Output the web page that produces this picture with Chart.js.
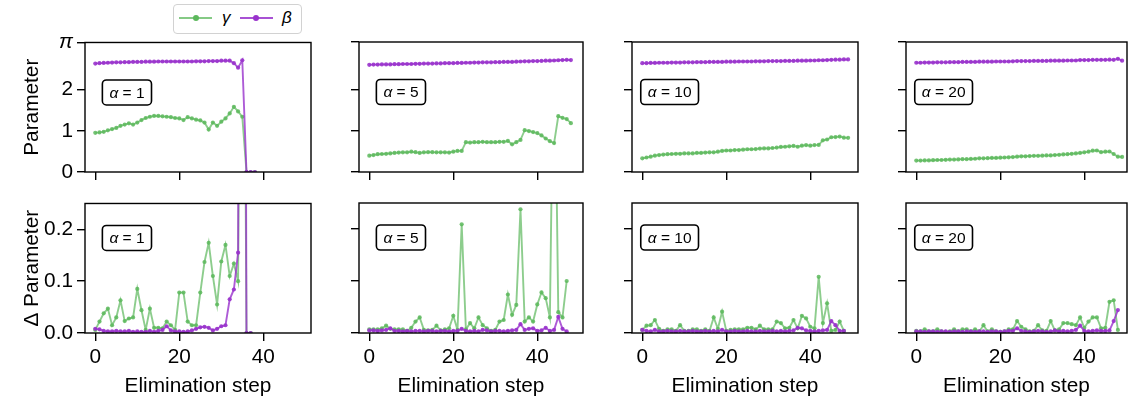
<!DOCTYPE html>
<html>
<head>
<meta charset="utf-8">
<script src="https://cdn.jsdelivr.net/npm/chart.js@4.4.1/dist/chart.umd.min.js"></script>
<style>
html, body { margin: 0; padding: 0; overflow: hidden; background: #fff; }
body { width: 1128px; height: 402px; position: relative; font-family: "Liberation Sans", Arial, sans-serif; }
canvas { position: absolute; }
#legend { position: absolute; z-index: 5; left: 173px; top: 4px; width: 127px; height: 28px;
          border: 1px solid #d2d2d2; border-radius: 4px; background: #fff; }
.lg-line { position: absolute; top: 12px; width: 33px; height: 2px; }
.lg-dot { position: absolute; top: 10px; width: 6px; height: 6px; border-radius: 50%; }
.lg-txt { position: absolute; top: 3px; font-style: italic; font-size: 17px; color: #000; }
</style>
</head>
<body>
<div id="legend">
  <div class="lg-line" style="left:5px;background:rgba(92,184,92,0.75)"></div>
  <div class="lg-dot" style="left:19px;background:rgb(92,184,92)"></div>
  <div class="lg-txt" style="left:48px">γ</div>
  <div class="lg-line" style="left:66px;background:rgba(153,50,204,0.85)"></div>
  <div class="lg-dot" style="left:79px;background:rgb(153,50,204)"></div>
  <div class="lg-txt" style="left:108px">β</div>
</div>
<script>
// ---- data ----
const alphas = [1, 5, 10, 20];

// alpha = 1
const gamma1 = [0.95,0.96,0.975,1.01,1.04,1.07,1.12,1.15,1.18,1.15,1.20,1.26,1.31,1.34,1.36,1.36,1.35,1.34,1.33,1.31,1.30,1.26,1.33,1.30,1.27,1.25,1.20,1.03,1.20,1.12,1.22,1.30,1.42,1.58,1.47,1.34,0,0,0];
const beta1 = [2.63,2.64,2.645,2.65,2.655,2.66,2.66,2.665,2.665,2.67,2.67,2.67,2.675,2.675,2.675,2.68,2.68,2.68,2.68,2.68,2.68,2.68,2.68,2.68,2.685,2.685,2.685,2.69,2.69,2.69,2.70,2.70,2.70,2.64,2.53,2.71,0,0,0];
const dGamma1 = [0.006,0.022,0.038,0.047,0.015,0.030,0.063,0.023,0.028,0.030,0.085,0.044,0.006,0.047,0.010,0.010,0.009,0.022,0.015,0.006,0.078,0.078,0.022,0.015,0.015,0.078,0.137,0.174,0.110,0.055,0.138,0.170,0.110,0.134,0.100,1.34,0,0];
const dBeta1 = [0.008,0.007,0.004,0.003,0.003,0.004,0.003,0.003,0.004,0.002,0.003,0.002,0.002,0.004,0.002,0.004,0.006,0.013,0.005,0.003,0.003,0.002,0.003,0.005,0.008,0.011,0.012,0.010,0.005,0.008,0.013,0.015,0.065,0.084,0.155,2.71,0,0];

// alpha = 5
const gamma5 = [0.395,0.41,0.43,0.435,0.44,0.45,0.46,0.47,0.475,0.475,0.49,0.48,0.46,0.475,0.48,0.48,0.475,0.475,0.475,0.47,0.49,0.51,0.51,0.72,0.71,0.72,0.72,0.73,0.72,0.72,0.72,0.73,0.73,0.75,0.67,0.72,0.775,1.01,0.99,0.965,0.94,0.885,0.81,0.745,0.70,1.35,1.31,1.28,1.18];
const beta5 = [2.59,2.595,2.595,2.60,2.60,2.60,2.605,2.605,2.61,2.61,2.61,2.615,2.615,2.62,2.62,2.62,2.625,2.625,2.63,2.63,2.63,2.635,2.635,2.64,2.64,2.645,2.645,2.65,2.65,2.65,2.655,2.655,2.66,2.66,2.66,2.665,2.67,2.675,2.675,2.68,2.68,2.685,2.69,2.69,2.695,2.70,2.705,2.71,2.705];
const dGamma5 = [0.007,0.007,0.007,0.009,0.014,0.008,0.007,0.007,0.007,0.004,0.010,0.022,0.030,0.006,0.005,0.006,0.014,0.005,0.007,0.009,0.033,0.006,0.209,0.007,0.019,0.009,0.030,0.015,0.009,0.004,0.006,0.022,0.025,0.074,0.035,0.054,0.238,0.022,0.030,0.022,0.055,0.078,0.067,0.030,0.650,0.040,0.030,0.100];
const dBeta5 = [0.005,0.005,0.004,0.005,0.006,0.009,0.004,0.004,0.003,0.004,0.003,0.004,0.004,0.003,0.004,0.004,0.003,0.004,0.004,0.003,0.004,0.004,0.008,0.004,0.003,0.004,0.003,0.006,0.005,0.003,0.004,0.004,0.003,0.004,0.005,0.006,0.017,0.006,0.008,0.009,0.004,0.005,0.010,0.004,0.006,0.031,0.008,0.003];

// alpha = 10
const gamma10 = [0.33,0.35,0.37,0.395,0.41,0.42,0.43,0.435,0.44,0.44,0.45,0.45,0.45,0.46,0.46,0.47,0.475,0.475,0.49,0.51,0.52,0.52,0.53,0.53,0.54,0.55,0.55,0.555,0.565,0.57,0.57,0.58,0.59,0.605,0.61,0.62,0.63,0.61,0.635,0.65,0.635,0.65,0.655,0.765,0.785,0.84,0.845,0.855,0.83,0.825];
const beta10 = [2.63,2.63,2.635,2.635,2.64,2.64,2.64,2.645,2.645,2.645,2.65,2.65,2.65,2.655,2.655,2.655,2.66,2.66,2.66,2.66,2.665,2.665,2.665,2.67,2.67,2.67,2.67,2.675,2.675,2.675,2.68,2.68,2.68,2.68,2.685,2.685,2.685,2.69,2.69,2.69,2.695,2.695,2.70,2.70,2.705,2.71,2.715,2.715,2.72,2.72];
const dGamma10 = [0.006,0.014,0.015,0.025,0.008,0.004,0.007,0.007,0.004,0.015,0.004,0.004,0.007,0.007,0.004,0.007,0.004,0.030,0.008,0.041,0.004,0.006,0.007,0.007,0.007,0.010,0.010,0.007,0.014,0.007,0.007,0.007,0.022,0.019,0.009,0.010,0.025,0.009,0.033,0.028,0.012,0.009,0.108,0.019,0.057,0.004,0.006,0.022,0.004];
const dBeta10 = [0.006,0.004,0.003,0.006,0.003,0.003,0.004,0.003,0.003,0.004,0.003,0.003,0.004,0.003,0.003,0.004,0.003,0.004,0.003,0.006,0.003,0.003,0.004,0.003,0.003,0.004,0.003,0.003,0.004,0.003,0.003,0.004,0.003,0.004,0.003,0.004,0.005,0.010,0.009,0.005,0.004,0.003,0.004,0.005,0.006,0.023,0.015,0.004,0.004];

// alpha = 20
const gamma20 = [0.275,0.275,0.28,0.28,0.285,0.29,0.29,0.295,0.30,0.30,0.305,0.31,0.31,0.315,0.32,0.33,0.33,0.335,0.34,0.34,0.345,0.35,0.355,0.36,0.37,0.38,0.38,0.385,0.39,0.39,0.395,0.40,0.40,0.41,0.415,0.425,0.43,0.44,0.45,0.46,0.475,0.49,0.515,0.52,0.48,0.49,0.495,0.435,0.37,0.365];
const beta20 = [2.64,2.64,2.645,2.645,2.645,2.65,2.65,2.65,2.655,2.655,2.655,2.66,2.66,2.66,2.66,2.665,2.665,2.665,2.665,2.67,2.67,2.67,2.67,2.675,2.68,2.68,2.68,2.68,2.685,2.685,2.685,2.685,2.69,2.69,2.69,2.69,2.695,2.695,2.695,2.705,2.705,2.705,2.71,2.71,2.71,2.71,2.715,2.71,2.735,2.69];
const dGamma20 = [0.004,0.003,0.007,0.003,0.003,0.007,0.003,0.002,0.003,0.007,0.003,0.007,0.007,0.003,0.007,0.003,0.015,0.003,0.007,0.003,0.002,0.003,0.007,0.007,0.023,0.012,0.007,0.003,0.004,0.015,0.005,0.004,0.023,0.005,0.007,0.019,0.019,0.017,0.015,0.030,0.010,0.022,0.030,0.030,0.009,0.010,0.060,0.063,0.006];
const dBeta20 = [0.003,0.003,0.002,0.003,0.003,0.002,0.003,0.003,0.002,0.003,0.003,0.002,0.003,0.003,0.002,0.003,0.003,0.002,0.003,0.003,0.002,0.003,0.004,0.004,0.009,0.004,0.003,0.002,0.003,0.004,0.003,0.002,0.003,0.005,0.003,0.004,0.003,0.004,0.006,0.014,0.004,0.003,0.004,0.005,0.004,0.004,0.005,0.023,0.044];

const topTicks = [0, 1, 2, Math.PI];
const topTickLabels = ['0', '1', '2', 'π'];
const bottomTicks = [0, 0.1, 0.2];
const bottomTickLabels = ['0.0', '0.1', '0.2'];
const xTicks = [0, 20, 40];
const xTickLabels = ['0', '20', '40'];

const gammaRows = [[gamma1, gamma5, gamma10, gamma20], [dGamma1, dGamma5, dGamma10, dGamma20]];
const betaRows = [[beta1, beta5, beta10, beta20], [dBeta1, dBeta5, dBeta10, dBeta20]];

// ---- layout ----
const panelLeft = [85, 359, 632, 906];
const panelRight = [311, 583, 858, 1127];
const rowTop = [42, 203];
const rowHeight = 130;
const padL = 84, padT = 16, padR = 6;
const padB = [20, 69];
const xMin = -2.45, pxPerStep = 4.2;
const boxRight = 66.5, boxMidY = [50, 34.5];

const FONT = '"Liberation Sans", Arial, sans-serif';
const FS = 20.8;
const green = 'rgba(92,184,92,0.7)', greenPt = 'rgba(92,184,92,0.85)';
const purple = 'rgba(153,50,204,0.8)', purplePt = 'rgba(153,50,204,0.9)';

function roundBox(ctx, x, y, w, h, r) {
    ctx.beginPath();
    ctx.moveTo(x + r, y);
    ctx.lineTo(x + w - r, y);
    ctx.arcTo(x + w, y, x + w, y + r, r);
    ctx.lineTo(x + w, y + h - r);
    ctx.arcTo(x + w, y + h, x + w - r, y + h, r);
    ctx.lineTo(x + r, y + h);
    ctx.arcTo(x, y + h, x, y + h - r, r);
    ctx.lineTo(x, y + r);
    ctx.arcTo(x, y, x + r, y, r);
    ctx.closePath();
}

// frame (all four spines) + the alpha label box
const panelDecor = {
    id: 'panelDecor',
    afterDatasetsDraw(chart, args, opts) {
        const ctx = chart.ctx, a = chart.chartArea;
        ctx.save();
        ctx.strokeStyle = '#000';
        ctx.lineWidth = 1.4;
        ctx.strokeRect(a.left, a.top, a.right - a.left, a.bottom - a.top);

        const rest = ' = ' + opts.alpha;
        ctx.font = 'italic 15.5px ' + FONT;
        const wA = ctx.measureText('α').width;
        ctx.font = '15.5px ' + FONT;
        const wR = ctx.measureText(rest).width;
        const bw = wA + wR + 14, bh = 25;
        const x0 = a.left + boxRight - bw, cy = a.top + opts.boxY;
        roundBox(ctx, x0, cy - bh / 2, bw, bh, 4);
        ctx.fillStyle = '#fff';
        ctx.fill();
        ctx.lineWidth = 1.6;
        ctx.stroke();
        ctx.fillStyle = '#000';
        ctx.textBaseline = 'middle';
        ctx.font = 'italic 15.5px ' + FONT;
        ctx.fillText('α', x0 + 7, cy + 1);
        ctx.font = '15.5px ' + FONT;
        ctx.fillText(rest, x0 + 7 + wA, cy + 1);
        ctx.restore();
    }
};

function makePanel(row, col) {
    const width = panelRight[col] - panelLeft[col];
    const w = padL + width + padR;
    const h = padT + rowHeight + padB[row];
    const cv = document.createElement('canvas');
    cv.width = w; cv.height = h;
    cv.style.left = (panelLeft[col] - padL) + 'px';
    cv.style.top = (rowTop[row] - padT) + 'px';
    cv.style.width = w + 'px'; cv.style.height = h + 'px';
    document.body.appendChild(cv);

    const yTicks = row === 0 ? topTicks : bottomTicks;
    const yLabels = row === 0 ? topTickLabels : bottomTickLabels;
    const pts = arr => arr.map((v, i) => ({x: i, y: v}));

    return new Chart(cv, {
        type: 'line',
        data: {
            datasets: [
                {label: 'γ', data: pts(gammaRows[row][col]), order: 2,
                 borderColor: green, backgroundColor: greenPt, pointBackgroundColor: greenPt,
                 borderWidth: 1.9, pointRadius: 2.1, pointBorderWidth: 0, tension: 0},
                {label: 'β', data: pts(betaRows[row][col]), order: 1,
                 borderColor: purple, backgroundColor: purplePt, pointBackgroundColor: purplePt,
                 borderWidth: 1.9, pointRadius: 2.1, pointBorderWidth: 0, tension: 0}
            ]
        },
        options: {
            responsive: false,
            animation: false,
            devicePixelRatio: 1,
            layout: {padding: {top: padT, right: padR, left: 0, bottom: 0}},
            plugins: {
                legend: {display: false},
                tooltip: {enabled: false},
                panelDecor: {alpha: alphas[col], boxY: boxMidY[row]}
            },
            scales: {
                x: {
                    type: 'linear',
                    min: xMin,
                    max: xMin + width / pxPerStep,
                    afterBuildTicks: s => { s.ticks = xTicks.map(v => ({value: v})); },
                    afterFit: s => { s.height = padB[row]; },
                    grid: {drawOnChartArea: false, drawTicks: true, tickLength: 8, color: '#000', lineWidth: 1.4},
                    border: {display: false},
                    ticks: {
                        display: row === 1,
                        maxRotation: 0,
                        padding: 4,
                        color: '#000',
                        font: {family: FONT, size: FS},
                        callback: v => xTickLabels[xTicks.indexOf(v)]
                    },
                    title: {
                        display: row === 1,
                        text: 'Elimination step',
                        color: '#000',
                        font: {family: FONT, size: FS},
                        padding: {top: 0, bottom: 3}
                    }
                },
                y: {
                    type: 'linear',
                    min: 0,
                    max: row === 0 ? Math.PI : 0.25,
                    afterBuildTicks: s => { s.ticks = yTicks.map(v => ({value: v})); },
                    afterFit: s => { s.width = padL; },
                    grid: {drawOnChartArea: false, drawTicks: true, tickLength: 8, color: '#000', lineWidth: 1.4},
                    border: {display: false},
                    ticks: {
                        display: col === 0,
                        padding: 4,
                        color: '#000',
                        font: c => ({family: FONT, size: FS,
                                     style: c.tick && Math.abs(c.tick.value - Math.PI) < 1e-9 ? 'italic' : 'normal'}),
                        callback: v => yLabels[yTicks.indexOf(v)]
                    },
                    title: {
                        display: col === 0,
                        text: row === 0 ? 'Parameter' : 'Δ Parameter',
                        color: '#000',
                        font: {family: FONT, size: FS},
                        padding: {top: 19, bottom: 0}
                    }
                }
            }
        },
        plugins: [panelDecor]
    });
}

for (let r = 0; r < 2; r++) {
    for (let c = 0; c < 4; c++) {
        makePanel(r, c);
    }
}
</script>
</body>
</html>
